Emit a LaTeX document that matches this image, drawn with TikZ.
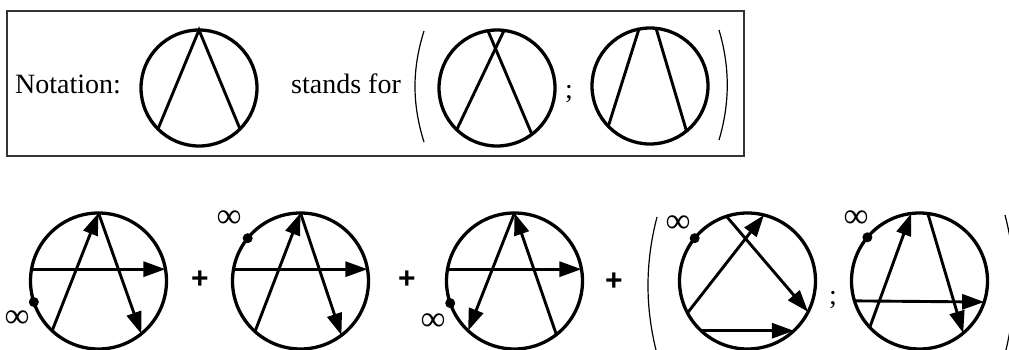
\documentclass[tikz,border=0pt]{standalone}
\usepackage{fontspec}
\setmainfont{Liberation Serif}
\newfontfamily\plusfont{Liberation Sans}
\usetikzlibrary{arrows.meta}

\tikzset{
    ring/.style={circle, draw, line width=3.3pt, inner sep=0pt, outer sep=0pt},
    chord/.style={line width=2.9pt},
    achord/.style={chord, -{Triangle[length=22pt,width=15pt]}},
    paren/.style={line width=1.2pt},
    infdot/.style={circle, fill, inner sep=0pt, minimum size=10pt},
    inflabel/.style={inner sep=0pt, font=\fontsize{35}{35}\selectfont},
    bigtext/.style={inner sep=0pt, font=\fontsize{28}{32}\selectfont},
    plussign/.style={inner sep=0pt, font=\plusfont\bfseries\fontsize{30}{30}\selectfont},
}

\begin{document}
\begin{tikzpicture}[x=1pt, y=1pt]
    \useasboundingbox (0,0) rectangle (1009,349);

    % Notation box
    \draw[line width=1.2pt, black!80] (7,338) rectangle (744,193);
    \node[bigtext, anchor=base west] (nota) at (15,256) {Notation:};
    \node[bigtext, anchor=base west] (stands) at (291,256) {stands for};
    \node[bigtext, anchor=base] (semitop) at (569,251) {;};

    % Notation circles
    \node[ring, minimum size=116pt] (n1) at (199,261) {};
    \node[ring, minimum size=116pt] (n2) at (497,261) {};
    \node[ring, minimum size=116pt] (n3) at (650,263) {};
    \draw[chord] (n1.225) -- (n1.90) -- (n1.315);
    \draw[chord] (n2.226) -- (n2.83);
    \draw[chord] (n2.99) -- (n2.307);
    \draw[chord] (n3.224) -- (n3.101);
    \draw[chord] (n3.84) -- (n3.309);

    % Notation brackets
    \draw[paren] (424,318) .. controls (412,280) and (412,245) .. (424,207);
    \draw[paren] (719,319) .. controls (730,282) and (730,246) .. (719,209);

    % Sum of diagrams
    \node[ring, minimum size=136pt] (cA) at (98.5,68) {};
    \node[ring, minimum size=136pt] (cB) at (300.5,68) {};
    \node[ring, minimum size=136pt] (cC) at (514.5,68) {};
    \node[ring, minimum size=136pt] (cD) at (747.5,68) {};
    \node[ring, minimum size=136pt] (cE) at (919.5,68) {};

    \node[plussign] (pAB) at (200,69) {+};
    \node[plussign] (pBC) at (407,69) {+};
    \node[plussign] (pCD) at (614,67) {+};
    \node[bigtext, anchor=base] (semibot) at (833,45) {;};

    % First diagram
    \draw[achord] (cA.170) -- (cA.10);
    \draw[achord] (cA.227) -- (cA.90);
    \draw[achord] (cA.90) -- (cA.309);
    \node[infdot] (dA) at (cA.198) {};
    \node[inflabel] (iA) at (17,30) {∞};

    % Second diagram
    \draw[achord] (cB.170) -- (cB.10);
    \draw[achord] (cB.228) -- (cB.90);
    \draw[achord] (cB.90) -- (cB.307);
    \node[infdot] (dB) at (cB.141) {};
    \node[inflabel] (iB) at (229,130) {∞};

    % Third diagram
    \draw[achord] (cC.170) -- (cC.10);
    \draw[achord] (cC.90) -- (cC.227);
    \draw[achord] (cC.308) -- (cC.90);
    \node[infdot] (dC) at (cC.199) {};
    \node[inflabel] (iC) at (433,26.5) {∞};

    % Pair in brackets
    \draw[achord] (cD.208) -- (cD.76);
    \draw[achord] (cD.108) -- (cD.333);
    \draw[achord] (cD.227) -- (cD.313);
    \node[infdot] (dD) at (cD.141) {};
    \node[inflabel] (iD) at (678,125) {∞};

    \draw[achord] (cE.223) -- (cE.97);
    \draw[achord] (cE.83) -- (cE.310);
    \draw[achord] (cE.197) -- (cE.342);
    \node[infdot] (dE) at (cE.140) {};
    \node[inflabel] (iE) at (856,129.5) {∞};

    \draw[paren] (657,132) .. controls (645,86) and (645,41) .. (657,-5);
    \draw[paren] (1005,134) .. controls (1017,88) and (1017,43) .. (1005,-5);
\end{tikzpicture}
\end{document}
